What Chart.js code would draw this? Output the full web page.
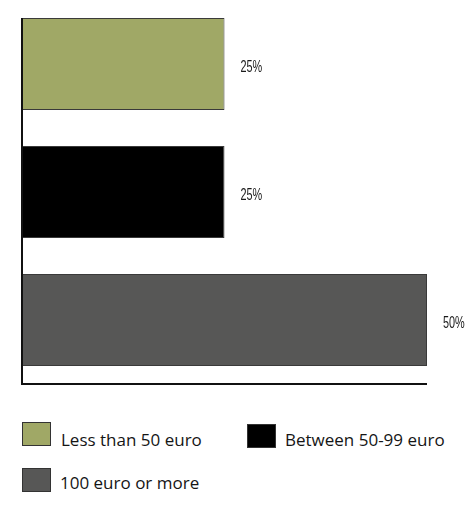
<!DOCTYPE html>
<html>
<head>
<meta charset="utf-8">
<script src="https://cdn.jsdelivr.net/npm/chart.js@4/dist/chart.umd.min.js"></script>
<style>
  html, body { margin: 0; padding: 0; background: #fff; }
  #wrap { position: relative; width: 471px; height: 508px; }
  #chartBox { position: absolute; left: 0; top: 0; width: 471px; height: 400px; }
  .box { position: absolute; width: 27px; height: 22px; border: 1px solid #333; }
  .txt { position: absolute; font-family: "Open Sans", sans-serif; font-size: 17px; line-height: 23px; color: #151515; white-space: nowrap; }
</style>
</head>
<body>
<div id="wrap">
  <div id="chartBox"><canvas id="c"></canvas></div>
  <div id="legend"></div>
</div>
<script>
// data
const categories = ['Less than 50 euro', 'Between 50-99 euro', '100 euro or more'];
const shares = [25, 25, 50];
const valueLabels = ['25%', '25%', '50%'];
const barColors = ['#a0a866', '#000000', '#575756'];
const axisMax = 50;

// legend spots: box x, box y, text x, text top
const legendSpots = [[22, 422, 61, 428], [247, 424, 285, 428], [22, 468, 60, 471]];

// value labels next to each bar, squeezed to look condensed
const valueLabelPlugin = {
    id: 'valueLabels',
    afterDatasetsDraw(chart) {
        const ctx = chart.ctx;
        const meta = chart.getDatasetMeta(0);
        const squeeze = 0.64;
        ctx.save();
        ctx.font = '17px "Liberation Sans", Arial, sans-serif';
        ctx.fillStyle = '#1a1a1a';
        ctx.textAlign = 'left';
        ctx.textBaseline = 'alphabetic';
        meta.data.forEach((bar, i) => {
            ctx.save();
            ctx.translate(bar.x + 16, bar.y + 8);
            ctx.scale(squeeze, 1);
            ctx.fillText(valueLabels[i], 0, 0);
            ctx.restore();
        });
        ctx.restore();
    }
};

// plain L-shaped axis
const axisLinePlugin = {
    id: 'axisLines',
    afterDraw(chart) {
        const { left, right, top, bottom } = chart.chartArea;
        const ctx = chart.ctx;
        ctx.save();
        ctx.strokeStyle = '#111';
        ctx.lineWidth = 2;
        ctx.beginPath();
        ctx.moveTo(left, top + 18);
        ctx.lineTo(left, bottom);
        ctx.lineTo(right, bottom);
        ctx.stroke();
        ctx.restore();
    }
};

new Chart(document.getElementById('c'), {
    type: 'bar',
    data: {
        labels: categories,
        datasets: [{
            data: shares,
            backgroundColor: barColors,
            borderColor: '#3a3a3a',
            borderWidth: 1,
            barPercentage: 0.72,
            categoryPercentage: 1.0
        }]
    },
    options: {
        indexAxis: 'y',
        responsive: true,
        maintainAspectRatio: false,
        animation: false,
        layout: { padding: { left: 22, right: 44, top: 0, bottom: 16 } },
        scales: {
            x: { display: false, min: 0, max: axisMax },
            y: { display: false }
        },
        plugins: {
            legend: { display: false },
            tooltip: { enabled: false }
        }
    },
    plugins: [valueLabelPlugin, axisLinePlugin]
});

// legend
const legendEl = document.getElementById('legend');
categories.forEach((name, i) => {
    const [bx, by, tx, ty] = legendSpots[i];
    const box = document.createElement('div');
    box.className = 'box';
    box.style.left = bx + 'px';
    box.style.top = by + 'px';
    box.style.background = barColors[i];
    legendEl.appendChild(box);
    const txt = document.createElement('div');
    txt.className = 'txt';
    txt.style.left = tx + 'px';
    txt.style.top = ty + 'px';
    txt.textContent = name;
    legendEl.appendChild(txt);
});
</script>
</body>
</html>
